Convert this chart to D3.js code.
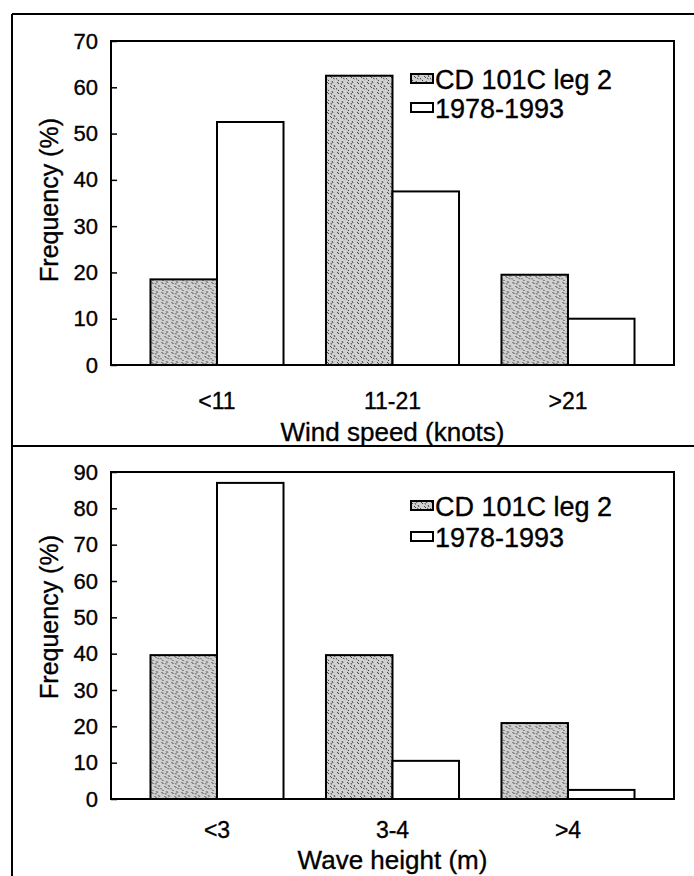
<!DOCTYPE html>
<html><head><meta charset="utf-8">
<script src="https://cdn.jsdelivr.net/npm/d3@7"></script>
<style>
body{margin:0;background:#fff}
svg{display:block}
text{font-family:"Liberation Sans",Arial,sans-serif;fill:#000;stroke:#000;stroke-width:0.35px}
</style>
</head><body>
<svg id="c" width="694" height="876"></svg>
<script>
// ---- data ----
const seriesNames = ["CD 101C leg 2", "1978-1993"];

const windCategories = ["<11", "11-21", ">21"];
const windCD = [18.5, 62.5, 19.5];
const windClim = [52.5, 37.5, 10];
const windTicks = [0, 10, 20, 30, 40, 50, 60, 70];
const windTitle = "Wind speed (knots)";

const waveCategories = ["<3", "3-4", ">4"];
const waveCD = [39.6, 39.6, 20.9];
const waveClim = [87, 10.5, 2.5];
const waveTicks = [0, 10, 20, 30, 40, 50, 60, 70, 80, 90];
const waveTitle = "Wave height (m)";

const yTitle = "Frequency (%)";

// ---- drawing ----
const svg = d3.select("#c");
const defs = svg.append("defs");
const pat = defs.append("pattern").attr("id", "speck")
  .attr("patternUnits", "userSpaceOnUse").attr("width", 10).attr("height", 10);
pat.append("rect").attr("width", 10).attr("height", 10).attr("fill", "#d0d0d0");
const strokes = [[1,2,3,4],[6,1,7,3],[4,6,6,8],[8,5,9,7],[0,8,1,9.5],[2,0,3,1],[5,3,5.5,4.5],[7,8,8.5,9]];
pat.selectAll("line").data(strokes).join("line")
  .attr("x1", d => d[0]).attr("y1", d => d[1]).attr("x2", d => d[2]).attr("y2", d => d[3])
  .attr("stroke", "#333").attr("stroke-width", 0.9);

// outer frame
const frame = svg.append("g").attr("stroke", "#000").attr("stroke-width", 2).attr("fill", "none");
frame.append("line").attr("x1", 12).attr("x2", 694).attr("y1", 14).attr("y2", 14);
frame.append("line").attr("x1", 12).attr("x2", 12).attr("y1", 14).attr("y2", 876);
frame.append("line").attr("x1", 12).attr("x2", 694).attr("y1", 446).attr("y2", 446);

function panel(cfg) {
  const g = svg.append("g");
  const x = d3.scaleBand().domain(cfg.cats).range([cfg.left, cfg.right])
    .paddingInner(0.242).paddingOuter(0.225);
  const xs = d3.scaleBand().domain([0, 1]).range([0, x.bandwidth()]);
  const y = d3.scaleLinear().domain([0, d3.max(cfg.ticks)]).range([cfg.bottom, cfg.top]);

  const rows = cfg.cats.map((c, i) => ({c, vals: [cfg.cd[i], cfg.clim[i]]}));
  const grp = g.selectAll("g.cat").data(rows).join("g")
    .attr("transform", d => `translate(${x(d.c)},0)`);
  grp.selectAll("rect").data(d => d.vals.map((v, k) => ({v, k}))).join("rect")
    .attr("x", d => xs(d.k)).attr("width", xs.bandwidth())
    .attr("y", d => y(d.v)).attr("height", d => y(0) - y(d.v))
    .attr("fill", d => d.k === 0 ? "url(#speck)" : "#fff")
    .attr("stroke", "#000").attr("stroke-width", 2);

  // plot box
  g.append("rect").attr("x", cfg.left).attr("y", cfg.top)
    .attr("width", cfg.right - cfg.left).attr("height", cfg.bottom - cfg.top)
    .attr("fill", "none").attr("stroke", "#000").attr("stroke-width", 2);

  // y axis
  const ya = g.append("g").attr("transform", `translate(${cfg.left},0)`)
    .call(d3.axisLeft(y).tickValues(cfg.ticks).tickFormat(d3.format("d"))
      .tickSizeInner(-6).tickSizeOuter(0).tickPadding(13));
  ya.select(".domain").remove();
  ya.selectAll(".tick line").attr("stroke", "#000").attr("stroke-width", 1.5);
  ya.selectAll(".tick text").attr("font-size", 22).attr("font-family", "Liberation Sans, Arial, sans-serif");

  // x axis labels
  const xa = g.append("g").attr("transform", `translate(0,${cfg.bottom})`)
    .call(d3.axisBottom(x).tickSize(0).tickPadding(cfg.catPad));
  xa.select(".domain").remove();
  xa.selectAll(".tick text").attr("font-size", 23).attr("font-family", "Liberation Sans, Arial, sans-serif");

  g.append("text").attr("x", x(cfg.cats[1]) + x.bandwidth() / 2).attr("y", cfg.titleY)
    .attr("text-anchor", "middle").attr("font-size", 26).text(cfg.title);

  g.append("text").attr("transform", `translate(${cfg.yTitleX},${cfg.yTitleMid}) rotate(-90)`)
    .attr("text-anchor", "middle").attr("font-size", 25).text(yTitle);

  // legend
  const lg = g.append("g");
  seriesNames.forEach((name, k) => {
    const by = cfg.legY + k * cfg.legGap;
    lg.append("rect").attr("x", 411).attr("y", by - 15).attr("width", 22).attr("height", 9)
      .attr("fill", k === 0 ? "url(#speck)" : "#fff").attr("stroke", "#000").attr("stroke-width", 2);
    lg.append("text").attr("x", 435).attr("y", by).attr("font-size", 27).text(name);
  });
}

panel({cats: windCategories, cd: windCD, clim: windClim, ticks: windTicks, title: windTitle,
  left: 111, right: 674, top: 41, bottom: 365, catPad: 28, titleY: 441,
  yTitleX: 58, yTitleMid: 200, legY: 89, legGap: 29});
panel({cats: waveCategories, cd: waveCD, clim: waveClim, ticks: waveTicks, title: waveTitle,
  left: 111, right: 674, top: 472, bottom: 799, catPad: 23, titleY: 869,
  yTitleX: 58, yTitleMid: 617, legY: 516, legGap: 31});
</script>
</body></html>
